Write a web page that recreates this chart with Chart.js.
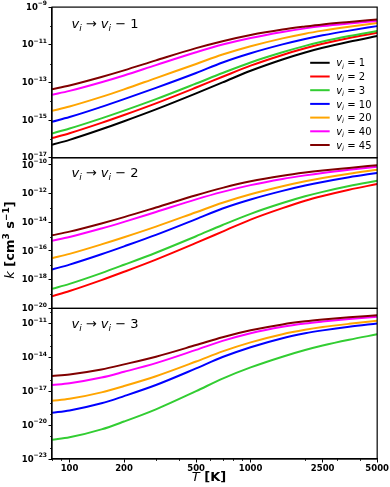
<!DOCTYPE html>
<html>
<head>
<meta charset="utf-8">
<script src="https://cdn.jsdelivr.net/npm/chart.js@4"></script>
<style>
  body { margin: 0; background: #fff; }
  canvas { display: block; }
</style>
</head>
<body>
<canvas id="rates" width="390" height="487"></canvas>
<script>
// temperatures (K) where the curves were read
const temps = [80, 100, 150, 200, 300, 500, 700, 1000, 1500, 2000, 2500, 3500, 5000];

// log10 k, v -> v-1
const d1_v1 = [-16.31, -16.05, -15.49, -15.06, -14.43, -13.58, -13.0, -12.38, -11.78, -11.41, -11.16, -10.84, -10.54];
const d1_v2 = [-15.96, -15.70, -15.15, -14.73, -14.11, -13.27, -12.70, -12.11, -11.54, -11.19, -10.95, -10.64, -10.36];
const d1_v3 = [-15.71, -15.45, -14.91, -14.50, -13.89, -13.06, -12.50, -11.94, -11.40, -11.06, -10.83, -10.54, -10.27];
const d1_v10 = [-15.09, -14.84, -14.30, -13.89, -13.29, -12.50, -11.94, -11.45, -10.98, -10.69, -10.50, -10.25, -10.01];
const d1_v20 = [-14.51, -14.28, -13.77, -13.37, -12.77, -12.02, -11.52, -11.08, -10.66, -10.41, -10.25, -10.04, -9.84];
const d1_v40 = [-13.66, -13.45, -12.99, -12.63, -12.08, -11.40, -10.99, -10.64, -10.32, -10.13, -10.01, -9.87, -9.74];
const d1_v45 = [-13.36, -13.16, -12.71, -12.36, -11.83, -11.18, -10.81, -10.48, -10.19, -10.03, -9.92, -9.79, -9.66];

// log10 k, v -> v-2
const d2_v2 = [-19.15, -18.79, -18.03, -17.45, -16.60, -15.44, -14.65, -13.81, -13.01, -12.50, -12.17, -11.73, -11.33];
const d2_v3 = [-18.64, -18.29, -17.54, -16.96, -16.12, -14.97, -14.19, -13.41, -12.66, -12.19, -11.88, -11.47, -11.10];
const d2_v10 = [-17.29, -16.95, -16.23, -15.68, -14.88, -13.78, -13.04, -12.41, -11.81, -11.44, -11.19, -10.86, -10.56];
const d2_v20 = [-16.51, -16.20, -15.54, -15.04, -14.30, -13.30, -12.64, -12.05, -11.49, -11.14, -10.91, -10.61, -10.33];
const d2_v40 = [-15.28, -15.02, -14.43, -13.97, -13.28, -12.40, -11.88, -11.41, -10.98, -10.73, -10.56, -10.34, -10.13];
const d2_v45 = [-14.91, -14.65, -14.08, -13.64, -12.97, -12.11, -11.60, -11.14, -10.75, -10.53, -10.39, -10.21, -10.02];

// log10 k, v -> v-3
const d3_v3 = [-21.29, -21.08, -20.38, -19.68, -18.60, -16.99, -15.88, -14.89, -13.94, -13.35, -12.95, -12.44, -11.96];
const d3_v10 = [-18.90, -18.70, -18.07, -17.43, -16.45, -14.98, -13.97, -13.10, -12.30, -11.87, -11.61, -11.28, -11.0];
const d3_v20 = [-17.84, -17.67, -17.10, -16.54, -15.67, -14.37, -13.47, -12.67, -11.95, -11.56, -11.32, -11.03, -10.76];
const d3_v40 = [-16.45, -16.29, -15.79, -15.28, -14.51, -13.34, -12.54, -11.86, -11.29, -11.00, -10.83, -10.61, -10.41];
const d3_v45 = [-15.65, -15.51, -15.07, -14.62, -13.94, -12.91, -12.21, -11.60, -11.08, -10.81, -10.65, -10.45, -10.27];

const vLevels = [1, 2, 3, 10, 20, 40, 45];
const colors = ["#000000", "#ff0000", "#32cd32", "#0000ff", "#ffa500", "#ff00ff", "#800000"];

const xTicks = [100, 200, 500, 1000, 2500, 5000];
const xMinor = [80, 90, 300, 400, 600, 700, 800, 900, 2000, 3000, 4000];
const yTicks1 = [-17, -15, -13, -11, -9];
const yTicks2 = [-20, -18, -16, -14, -12, -10];
const yTicks3 = [-23, -20, -17, -14, -11];

const panels = [
  { axis: "y1", curves: [d1_v1, d1_v2, d1_v3, d1_v10, d1_v20, d1_v40, d1_v45], levels: [1, 2, 3, 10, 20, 40, 45] },
  { axis: "y2", curves: [d2_v2, d2_v3, d2_v10, d2_v20, d2_v40, d2_v45], levels: [2, 3, 10, 20, 40, 45] },
  { axis: "y3", curves: [d3_v3, d3_v10, d3_v20, d3_v40, d3_v45], levels: [3, 10, 20, 40, 45] },
];

let datasets = [];
panels.forEach(function (p) {
  p.curves.forEach(function (arr, i) {
    let idx = vLevels.indexOf(p.levels[i]);
    datasets.push({
      label: "v=" + p.levels[i],
      data: temps.map((t, j) => ({ x: t, y: Math.pow(10, arr[j]) })),
      borderColor: colors[idx],
      borderWidth: 2,
      pointRadius: 0,
      fill: false,
      cubicInterpolationMode: "monotone",
      xAxisID: "x",
      yAxisID: p.axis,
      order: 10 - idx,
    });
  });
});

const tickFont = { family: "DejaVu Sans", size: 8.5, weight: "bold" };

function yScale(lo, hi, ticks) {
  return {
    type: "logarithmic",
    position: "left",
    stack: "k",
    stackWeight: 1,
    min: Math.pow(10, lo),
    max: Math.pow(10, hi),
    afterBuildTicks: (s) => { s.ticks = ticks.map((e) => ({ value: Math.pow(10, e) })); },
    afterFit: (s) => { s.width = 52; },
    // labels are drawn by the decor plugin (10 with a real superscript)
    ticks: { autoSkip: false, font: tickFont, color: "#000", padding: 2, callback: () => "" },
    grid: { display: true, drawOnChartArea: false, drawTicks: true, tickLength: 3.5, color: "#000" },
    border: { display: true, color: "#000", width: 1.2 },
  };
}

// mixed-font text runs
function drawRuns(ctx, x, y, runs, align) {
  let w = 0;
  runs.forEach((r) => { ctx.font = r.font; w += ctx.measureText(r.t).width; });
  let cx = x;
  if (align === "center") cx = x - w / 2;
  if (align === "right") cx = x - w;
  runs.forEach((r) => {
    ctx.font = r.font;
    ctx.fillText(r.t, cx, y + (r.dy || 0));
    cx += ctx.measureText(r.t).width;
  });
}

function vRuns(size, rest) {
  let sub = Math.round(size * 0.7);
  return [
    { t: "v", font: "italic " + size + "px 'DejaVu Sans'" },
    { t: "i", font: "italic " + sub + "px 'DejaVu Sans'", dy: size * 0.22 },
    { t: rest, font: size + "px 'DejaVu Sans'" },
  ];
}

const decor = {
  id: "decor",
  afterDraw(chart) {
    const ctx = chart.ctx;
    const area = chart.chartArea;
    ctx.save();
    ctx.strokeStyle = "#000";
    ctx.lineWidth = 1.2;
    ["y1", "y2", "y3"].forEach((id) => {
      let s = chart.scales[id];
      ctx.strokeRect(area.left, s.top, area.right - area.left, s.bottom - s.top);
    });

    // y tick labels and minor ticks
    ctx.fillStyle = "#000";
    ctx.lineWidth = 0.8;
    ctx.textBaseline = "middle";
    [["y1", yTicks1], ["y2", yTicks2], ["y3", yTicks3]].forEach((p) => {
      let s = chart.scales[p[0]];
      p[1].forEach((e) => {
        let y = s.getPixelForValue(Math.pow(10, e));
        drawRuns(ctx, area.left - 5, y + 0.5, [
          { t: "10", font: "bold 8.5px 'DejaVu Sans'" },
          { t: "\u2212" + Math.abs(e), font: "bold 6px 'DejaVu Sans'", dy: -3.8 },
        ], "right");
      });
      let lo = Math.ceil(Math.log10(s.min)), hi = Math.floor(Math.log10(s.max));
      for (let e = lo; e <= hi; e++) {
        if (p[1].indexOf(e) >= 0) continue;
        let y = Math.round(s.getPixelForValue(Math.pow(10, e))) + 0.5;
        ctx.beginPath();
        ctx.moveTo(area.left - 2, y);
        ctx.lineTo(area.left, y);
        ctx.stroke();
      }
    });
    let sx = chart.scales.x;
    xMinor.forEach((t) => {
      let x = Math.round(sx.getPixelForValue(t)) + 0.5;
      ctx.beginPath();
      ctx.moveTo(x, area.bottom);
      ctx.lineTo(x, area.bottom + 2);
      ctx.stroke();
    });

    ctx.textBaseline = "alphabetic";
    // panel labels
    const tags = [["y1", " \u2192 ", "1", 21], ["y2", " \u2192 ", "2", 19], ["y3", " \u2192 ", "3", 19.5]];
    tags.forEach((tg) => {
      let s = chart.scales[tg[0]];
      let runs = vRuns(13, tg[1]).concat(vRuns(13, " \u2212 " + tg[2]));
      drawRuns(ctx, area.left + 19.5, s.top + tg[3], runs, "left");
    });

    // legend inside the top panel
    let s1 = chart.scales.y1;
    vLevels.forEach((v, i) => {
      let y = s1.top + 55.7 + i * 13.7;
      ctx.strokeStyle = colors[i];
      ctx.lineWidth = 2;
      ctx.beginPath();
      ctx.moveTo(area.right - 67, y);
      ctx.lineTo(area.right - 47.5, y);
      ctx.stroke();
      ctx.fillStyle = "#000";
      drawRuns(ctx, area.right - 41, y + 3.6, vRuns(10, " = " + v), "left");
    });

    // axis titles
    ctx.fillStyle = "#000";
    drawRuns(ctx, 209, 481, [
      { t: "T", font: "italic 13px 'DejaVu Sans'" },
      { t: " [K]", font: "bold 13px 'DejaVu Sans'" },
    ], "center");

    ctx.translate(14, 240);
    ctx.rotate(-Math.PI / 2);
    drawRuns(ctx, 0, 0, [
      { t: "k", font: "italic 13px 'DejaVu Sans'" },
      { t: " [cm", font: "bold 13px 'DejaVu Sans'" },
      { t: "3", font: "bold 9px 'DejaVu Sans'", dy: -5 },
      { t: " s", font: "bold 13px 'DejaVu Sans'" },
      { t: "\u22121", font: "bold 9px 'DejaVu Sans'", dy: -5 },
      { t: "]", font: "bold 13px 'DejaVu Sans'" },
    ], "center");
    ctx.restore();
  },
};

new Chart(document.getElementById("rates"), {
  type: "line",
  data: { datasets: datasets },
  plugins: [decor],
  options: {
    responsive: false,
    animation: false,
    layout: { padding: { top: 6, right: 12.7, left: 0, bottom: 0 } },
    plugins: { legend: { display: false }, tooltip: { enabled: false } },
    scales: {
      x: {
        type: "logarithmic",
        position: "bottom",
        min: 80,
        max: 5000,
        afterBuildTicks: (s) => { s.ticks = xTicks.map((v) => ({ value: v })); },
        afterFit: (s) => { s.height = 28; },
        ticks: { autoSkip: false, maxRotation: 0, font: tickFont, color: "#000", padding: 1, callback: (v) => String(v) },
        grid: { display: true, drawOnChartArea: false, drawTicks: true, tickLength: 3.5, color: "#000" },
        border: { display: true, color: "#000", width: 1.2 },
      },
      y3: yScale(-23, -9.66, yTicks3),
      y2: yScale(-20, -9.5, yTicks2),
      y1: yScale(-17, -9, yTicks1),
    },
  },
});
</script>
</body>
</html>
